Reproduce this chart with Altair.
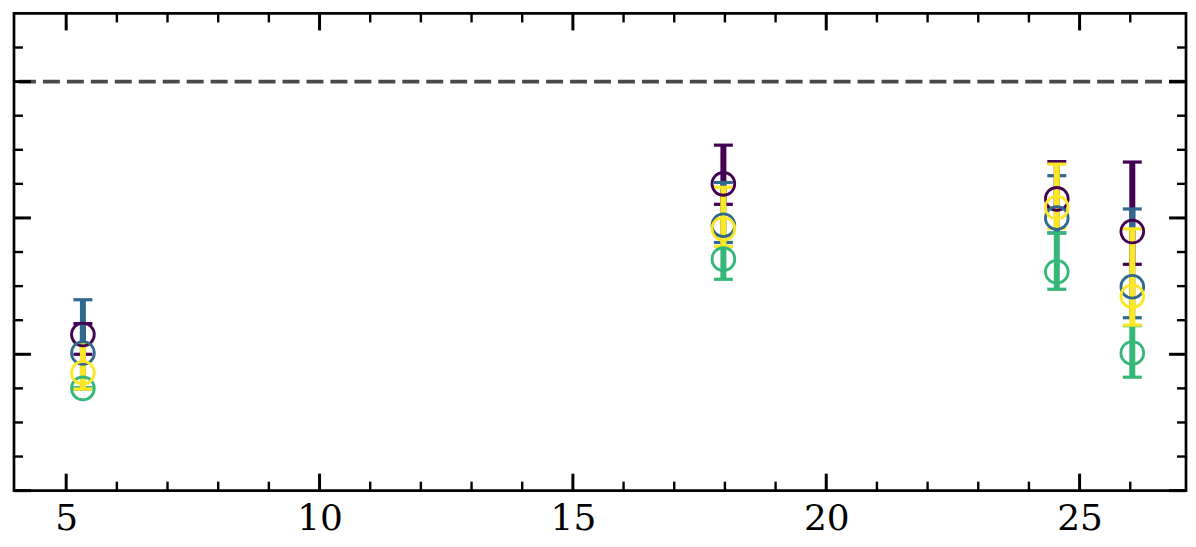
import altair as alt
import pandas as pd

# ---- data ----
x_pos = [5.33, 17.97, 24.55, 26.04]

series_names = ["s1", "s2", "s3", "s4"]
series_colors = ["#440154", "#31688e", "#35b779", "#fde725"]

s1_y = [0.8145, 0.925, 0.914, 0.890]
s1_lo = [0.800, 0.910, 0.907, 0.866]
s1_hi = [0.8225, 0.9534, 0.9413, 0.9410]

s2_y = [0.801, 0.8947, 0.900, 0.8495]
s2_lo = [0.775, 0.882, 0.889, 0.8268]
s2_hi = [0.840, 0.926, 0.931, 0.9066]

s3_y = [0.775, 0.8698, 0.8605, 0.801]
s3_lo = [0.7745, 0.855, 0.8477, 0.7832]
s3_hi = [0.7755, 0.887, 0.889, 0.821]

s4_y = [0.7865, 0.892, 0.9077, 0.8426]
s4_lo = [0.7745, 0.879, 0.8923, 0.8214]
s4_hi = [0.807, 0.9225, 0.9395, 0.892]

reference_level = [1.0]

x_domain = [3.97, 27.1]
y_domain = [0.7, 1.05]

x_major = [5, 10, 15, 20, 25]
x_minor = [6, 7, 8, 9, 11, 12, 13, 14, 16, 17, 18, 19, 21, 22, 23, 24, 26]
y_major = [0.7, 0.8, 0.9, 1.0]
y_minor = [0.725, 0.75, 0.775, 0.825, 0.85, 0.875, 0.925, 0.95, 0.975, 1.025]

# ---- layout ----
W, H = 1174, 478

xs = alt.Scale(domain=x_domain, nice=False, zero=False)
ys = alt.Scale(domain=y_domain, nice=False, zero=False)

xaxis = alt.Axis(values=x_major, ticks=False, domain=False, grid=False,
                 labelFont="DejaVu Serif", labelFontSize=36, labelColor="black",
                 labelPadding=11, labelFlush=False, title=None)
X = alt.X("x:Q", scale=xs, axis=xaxis)


def Yf(field):
    return alt.Y(f"{field}:Q", scale=ys, axis=None)


all_y = [s1_y, s2_y, s3_y, s4_y]
all_lo = [s1_lo, s2_lo, s3_lo, s4_lo]
all_hi = [s1_hi, s2_hi, s3_hi, s4_hi]

frames = []
for name, ys_, lo, hi in zip(series_names, all_y, all_lo, all_hi):
    frames.append(pd.DataFrame({"x": x_pos, "y": ys_, "lo": lo, "hi": hi, "series": name}))

layers = []

# dashed reference line
ref_df = pd.DataFrame({"y": reference_level})
layers.append(
    alt.Chart(ref_df).mark_rule(color="#4a4a4a", strokeWidth=3.6, strokeDash=[17, 7])
    .encode(y=Yf("y"))
)

# error bars (bars + caps) per series, in plotting order
for df, col in zip(frames, series_colors):
    base = alt.Chart(df)
    layers.append(base.mark_rule(color=col, strokeWidth=6).encode(x=X, y=Yf("lo"), y2="hi:Q"))
    layers.append(base.mark_tick(color=col, orient="horizontal", size=19, thickness=3.2, opacity=1)
                  .encode(x=X, y=Yf("lo")))
    layers.append(base.mark_tick(color=col, orient="horizontal", size=19, thickness=3.2, opacity=1)
                  .encode(x=X, y=Yf("hi")))

# open circle markers on top
for df, col in zip(frames, series_colors):
    layers.append(
        alt.Chart(df).mark_point(shape="circle", filled=False, size=520, strokeWidth=2.8,
                                 color=col, opacity=1)
        .encode(x=X, y=Yf("y"))
    )

# inward ticks on all four sides
xmaj = pd.DataFrame({"x": x_major})
xmin = pd.DataFrame({"x": x_minor})
ymaj = pd.DataFrame({"y": y_major})
ymin = pd.DataFrame({"y": y_minor})

MAJ, MIN = 17, 9
layers.append(alt.Chart(xmaj).mark_rule(color="black", strokeWidth=3)
              .encode(x=X, y=alt.value(H), y2=alt.value(H - MAJ)))
layers.append(alt.Chart(xmaj).mark_rule(color="black", strokeWidth=3)
              .encode(x=X, y=alt.value(0), y2=alt.value(MAJ)))
layers.append(alt.Chart(xmin).mark_rule(color="black", strokeWidth=2.4)
              .encode(x=X, y=alt.value(H), y2=alt.value(H - MIN)))
layers.append(alt.Chart(xmin).mark_rule(color="black", strokeWidth=2.4)
              .encode(x=X, y=alt.value(0), y2=alt.value(MIN)))

layers.append(alt.Chart(ymaj).mark_rule(color="black", strokeWidth=3)
              .encode(y=Yf("y"), x=alt.value(0), x2=alt.value(MAJ)))
layers.append(alt.Chart(ymaj).mark_rule(color="black", strokeWidth=3)
              .encode(y=Yf("y"), x=alt.value(W), x2=alt.value(W - MAJ)))
layers.append(alt.Chart(ymin).mark_rule(color="black", strokeWidth=2.4)
              .encode(y=Yf("y"), x=alt.value(0), x2=alt.value(MIN)))
layers.append(alt.Chart(ymin).mark_rule(color="black", strokeWidth=2.4)
              .encode(y=Yf("y"), x=alt.value(W), x2=alt.value(W - MIN)))

chart = (
    alt.layer(*layers)
    .properties(width=W, height=H, padding={"left": 4, "top": 3, "right": 0, "bottom": 3})
    .configure(background="white")
    .configure_view(stroke="black", strokeWidth=2.7)
)

chart.save("out.html", embed_options={"renderer": "svg", "actions": False})
